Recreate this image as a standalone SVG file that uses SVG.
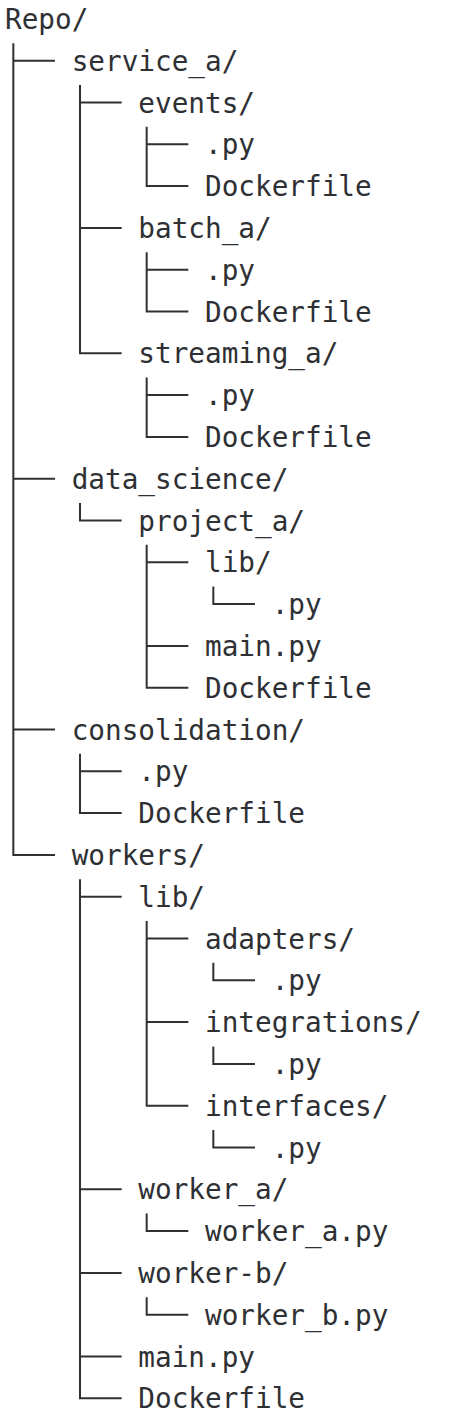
<svg xmlns="http://www.w3.org/2000/svg" width="452" height="1426" viewBox="0 0 452 1426">
<style>
text{font-family:"DejaVu Sans Mono","Liberation Mono",monospace;font-size:27.7px;fill:#2e3034}
.c path{fill:none;stroke:#2e3034;stroke-width:2;stroke-linejoin:miter;stroke-linecap:butt}
</style>
<rect width="452" height="1426" fill="#ffffff"/>
<g class="c" id="connectors">
<path d="M13.33 43.2 V854.9 H55 M13.33 60.7 H55 M13.33 478.7 H55 M13.33 729.5 H55"/>
<path d="M80 85 V353.3 H121.67 M80 102.5 H121.67 M80 227.9 H121.67"/>
<path d="M146.67 126.8 V186.1 H188.33 M146.67 144.3 H188.33"/>
<path d="M146.67 252.2 V311.5 H188.33 M146.67 269.7 H188.33"/>
<path d="M146.67 377.6 V436.9 H188.33 M146.67 395.1 H188.33"/>
<path d="M80 503 V520.5 H121.67"/>
<path d="M146.67 544.8 V687.7 H188.33 M146.67 562.3 H188.33 M146.67 645.9 H188.33"/>
<path d="M213.33 586.6 V604.1 H255"/>
<path d="M80 753.8 V813.1 H121.67 M80 771.3 H121.67"/>
<path d="M80 879.2 V1398.3 H121.67 M80 896.7 H121.67 M80 1189.3 H121.67 M80 1272.9 H121.67 M80 1356.5 H121.67"/>
<path d="M146.67 921 V1105.7 H188.33 M146.67 938.5 H188.33 M146.67 1022.1 H188.33"/>
<path d="M213.33 962.8 V980.3 H255"/>
<path d="M213.33 1046.4 V1063.9 H255"/>
<path d="M213.33 1130 V1147.5 H255"/>
<path d="M146.67 1213.6 V1231.1 H188.33"/>
<path d="M146.67 1297.2 V1314.7 H188.33"/>
</g>
<g id="n-repo"><text x="5" y="28.9">Repo/</text></g>
<g id="n-service_a"><text x="71.67" y="70.7">service_a/</text></g>
<g id="n-events"><text x="138.33" y="112.5">events/</text></g>
<g id="n-events-py"><text x="205" y="154.3">.py</text></g>
<g id="n-events-docker"><text x="205" y="196.1">Dockerfile</text></g>
<g id="n-batch_a"><text x="138.33" y="237.9">batch_a/</text></g>
<g id="n-batch-py"><text x="205" y="279.7">.py</text></g>
<g id="n-batch-docker"><text x="205" y="321.5">Dockerfile</text></g>
<g id="n-streaming_a"><text x="138.33" y="363.3">streaming_a/</text></g>
<g id="n-streaming-py"><text x="205" y="405.1">.py</text></g>
<g id="n-streaming-docker"><text x="205" y="446.9">Dockerfile</text></g>
<g id="n-data_science"><text x="71.67" y="488.7">data_science/</text></g>
<g id="n-project_a"><text x="138.33" y="530.5">project_a/</text></g>
<g id="n-project-lib"><text x="205" y="572.3">lib/</text></g>
<g id="n-project-lib-py"><text x="271.67" y="614.1">.py</text></g>
<g id="n-project-main"><text x="205" y="655.9">main.py</text></g>
<g id="n-project-docker"><text x="205" y="697.7">Dockerfile</text></g>
<g id="n-consolidation"><text x="71.67" y="739.5">consolidation/</text></g>
<g id="n-consolidation-py"><text x="138.33" y="781.3">.py</text></g>
<g id="n-consolidation-docker"><text x="138.33" y="823.1">Dockerfile</text></g>
<g id="n-workers"><text x="71.67" y="864.9">workers/</text></g>
<g id="n-workers-lib"><text x="138.33" y="906.7">lib/</text></g>
<g id="n-adapters"><text x="205" y="948.5">adapters/</text></g>
<g id="n-adapters-py"><text x="271.67" y="990.3">.py</text></g>
<g id="n-integrations"><text x="205" y="1032.1">integrations/</text></g>
<g id="n-integrations-py"><text x="271.67" y="1073.9">.py</text></g>
<g id="n-interfaces"><text x="205" y="1115.7">interfaces/</text></g>
<g id="n-interfaces-py"><text x="271.67" y="1157.5">.py</text></g>
<g id="n-worker_a"><text x="138.33" y="1199.3">worker_a/</text></g>
<g id="n-worker_a-py"><text x="205" y="1241.1">worker_a.py</text></g>
<g id="n-worker-b"><text x="138.33" y="1282.9">worker-b/</text></g>
<g id="n-worker_b-py"><text x="205" y="1324.7">worker_b.py</text></g>
<g id="n-workers-main"><text x="138.33" y="1366.5">main.py</text></g>
<g id="n-workers-docker"><text x="138.33" y="1408.3">Dockerfile</text></g>
</svg>
